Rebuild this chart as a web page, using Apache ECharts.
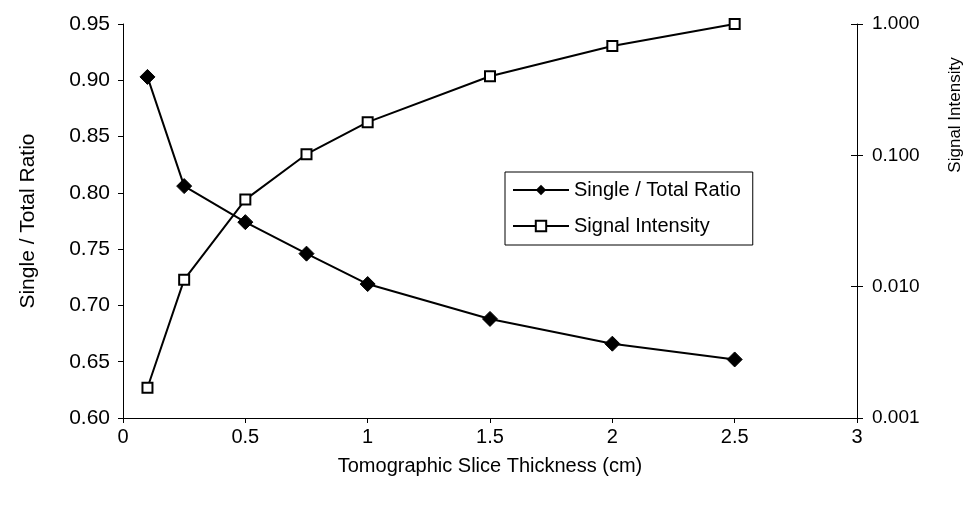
<!DOCTYPE html>
<html>
<head>
    <meta charset="utf-8">
    <title>Slice thickness chart</title>
    <script src="https://cdn.jsdelivr.net/npm/echarts@6/dist/echarts.min.js"></script>
    <style>
        html, body { margin: 0; padding: 0; background: #fff; }
        #main { width: 971px; height: 510px; }
    </style>
</head>
<body>
    <div id="main"></div>
    <script>
    // data
    var thickness = [0.1, 0.25, 0.5, 0.75, 1, 1.5, 2, 2.5];
    var ratio = [0.903, 0.806, 0.774, 0.746, 0.719, 0.688, 0.666, 0.652];
    var signal = [0.0017, 0.0113, 0.046, 0.102, 0.179, 0.40, 0.68, 1.0];

    var FONT = '"Liberation Sans", Arial, sans-serif';

    function pairs(xs, ys) {
        var out = [];
        for (var i = 0; i < xs.length; i++) out.push([xs[i], ys[i]]);
        return out;
    }

    var chart = echarts.init(document.getElementById('main'));

    var axisLine = { show: true, lineStyle: { color: '#000', width: 1 } };

    var option = {
        animation: false,
        backgroundColor: '#fff',
        grid: { left: 123, right: 114, top: 24, bottom: 92 },
        legend: {
            left: 505,
            top: 172,
            orient: 'vertical',
            borderColor: '#000',
            borderWidth: 1,
            padding: [8, 12, 9, 7],
            itemWidth: 56,
            itemHeight: 13,
            itemGap: 16,
            textStyle: { color: '#000', fontSize: 20, fontFamily: FONT },
            data: ['Single / Total Ratio', 'Signal Intensity']
        },
        // right axis title sits high up in the original
        graphic: [{
            type: 'text',
            x: 955,
            y: 115,
            rotation: Math.PI / 2,
            style: {
                text: 'Signal Intensity',
                fill: '#000',
                font: '17px ' + FONT,
                align: 'center',
                verticalAlign: 'middle'
            }
        }],
        xAxis: {
            type: 'value',
            min: 0, max: 3, interval: 0.5,
            name: 'Tomographic Slice Thickness (cm)',
            nameLocation: 'middle',
            nameGap: 38,
            nameTextStyle: { color: '#000', fontSize: 20, fontFamily: FONT },
            axisLine: axisLine,
            axisTick: { show: true, length: 5, lineStyle: { color: '#000' } },
            axisLabel: { margin: 9, color: '#000', fontSize: 20, fontFamily: FONT },
            splitLine: { show: false }
        },
        yAxis: [
            {
                type: 'value',
                position: 'left',
                min: 0.6, max: 0.95, interval: 0.05,
                name: 'Single / Total Ratio',
                nameLocation: 'middle',
                nameGap: 84,
                nameTextStyle: { color: '#000', fontSize: 21, fontFamily: FONT },
                axisLine: axisLine,
                axisTick: { show: true, length: 5, lineStyle: { color: '#000' } },
                axisLabel: {
                    margin: 13, color: '#000', fontSize: 21, fontFamily: FONT,
                    formatter: function (v) { return v.toFixed(2); }
                },
                splitLine: { show: false }
            },
            {
                type: 'log',
                logBase: 10,
                position: 'right',
                min: 0.001, max: 1,
                axisLine: axisLine,
                axisTick: { show: true, length: 6, lineStyle: { color: '#000' } },
                axisLabel: {
                    margin: 15, color: '#000', fontSize: 19, fontFamily: FONT,
                    formatter: function (v) { return v.toFixed(3); }
                },
                splitLine: { show: false }
            },
            {
                // inner half of the cross ticks on the right axis
                type: 'log',
                logBase: 10,
                position: 'right',
                min: 0.001, max: 1,
                axisLine: { show: false },
                axisTick: { show: true, inside: true, length: 6, lineStyle: { color: '#000' } },
                axisLabel: { show: false },
                splitLine: { show: false }
            }
        ],
        series: [
            {
                name: 'Single / Total Ratio',
                type: 'line',
                yAxisIndex: 0,
                data: pairs(thickness, ratio),
                symbol: 'diamond',
                symbolSize: [15, 15],
                showAllSymbol: true,
                lineStyle: { color: '#000', width: 2 },
                itemStyle: { color: '#000', borderColor: '#000' },
                z: 3
            },
            {
                name: 'Signal Intensity',
                type: 'line',
                yAxisIndex: 1,
                data: pairs(thickness, signal),
                symbol: 'rect',
                symbolSize: [10, 10],
                showAllSymbol: true,
                lineStyle: { color: '#000', width: 2 },
                itemStyle: { color: '#fff', borderColor: '#000', borderWidth: 2 },
                z: 3
            }
        ]
    };

    chart.setOption(option);
    </script>
</body>
</html>
